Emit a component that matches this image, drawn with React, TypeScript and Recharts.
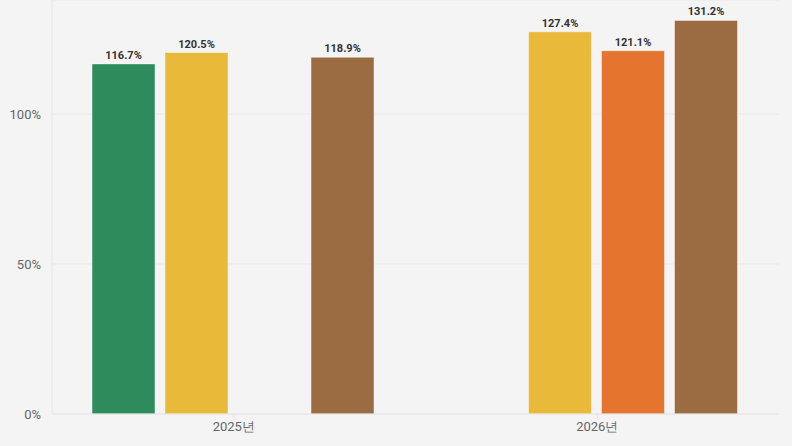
import React from 'react';
import { BarChart, Bar, XAxis, YAxis, CartesianGrid, LabelList } from 'recharts';

const categories = ['2025년', '2026년'];
const green = [116.7, null];
const yellow = [120.5, 127.4];
const orange = [null, 121.1];
const brown = [118.9, 131.2];
const yTicks = [0, 50, 100];

const data = categories.map((name, i) => ({
  name,
  green: green[i],
  yellow: yellow[i],
  orange: orange[i],
  brown: brown[i],
}));

const series = [
  { key: 'green', color: '#2e8b5c' },
  { key: 'yellow', color: '#e9b93a' },
  { key: 'orange', color: '#e5742f' },
  { key: 'brown', color: '#9b6c41' },
];

const fmt = (v: any) => (v == null ? '' : `${v}%`);

export default function App() {
  return (
    <div style={{ background: '#f4f4f4', width: 792, height: 446, fontFamily: 'Roboto, sans-serif' }}>
      <style>{`body{margin:0}`}</style>
      <BarChart
        width={792}
        height={446}
        data={data}
        margin={{ top: 0, right: 13, bottom: 0, left: 0 }}
        barCategoryGap={40}
        barGap={10}
      >
        <CartesianGrid vertical={false} stroke="#e9e9e9" />
        <XAxis
          dataKey="name"
          height={32}
          stroke="#e6e6e6"
          tick={{ fill: '#666', fontSize: 13 }}
          tickSize={6}
          tickMargin={2}
        />
        <YAxis
          width={52}
          domain={[0, 138]}
          ticks={yTicks}
          tickFormatter={(v) => `${v}%`}
          stroke="#e6e6e6"
          tickLine={false}
          tick={{ fill: '#666', fontSize: 13 }}
          tickMargin={5}
        />
        {series.map((s) => (
          <Bar
            key={s.key}
            dataKey={s.key}
            fill={s.color}
            stroke="rgba(255,255,255,0.45)"
            strokeWidth={1}
            isAnimationActive={false}
          >
            <LabelList
              dataKey={s.key}
              position="top"
              formatter={fmt}
              style={{ fill: '#333', fontSize: 11, fontWeight: 700 }}
            />
          </Bar>
        ))}
      </BarChart>
    </div>
  );
}
